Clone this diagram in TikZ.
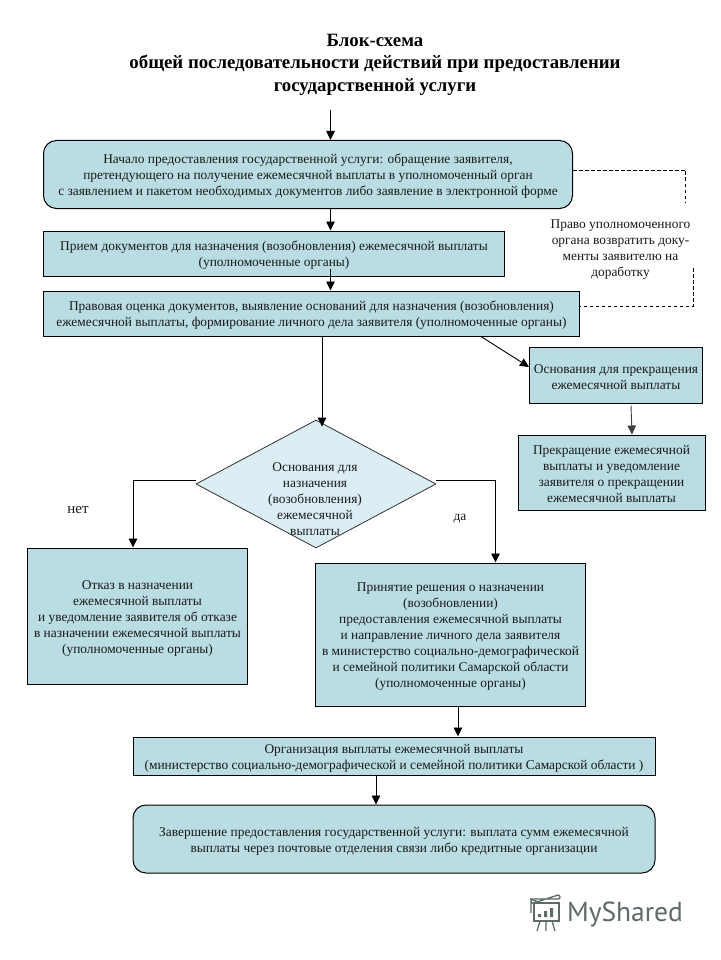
\documentclass[tikz,border=0pt]{standalone}
\usepackage{fontspec}
\setmainfont{Liberation Serif}
\newfontfamily\logofont{PT Sans}
\usetikzlibrary{shapes.geometric,arrows.meta,positioning}
\definecolor{boxfill}{HTML}{B9DDE3}
\definecolor{decfill}{HTML}{DBEEF3}
\definecolor{logogray}{HTML}{5E6B67}
\newcommand{\topgap}{\rule{0pt}{13pt}}
\tikzset{main box/.style={rectangle,draw=black,line width=1pt,fill=boxfill,align=center,inner sep=0pt,text=black!90,font=\fontsize{13.4}{16}\selectfont},
         round box/.style={main box,rounded corners=13pt},
         dec box/.style={diamond,draw=black!80,line width=0.8pt,fill=decfill,inner sep=0pt,aspect=1.9},
         edge label/.style={rectangle,draw=none,fill=none,align=center,inner sep=0pt,text=black!90,font=\fontsize{13.4}{16}\selectfont},
         title label/.style={edge label,text=black,font=\bfseries\fontsize{18.8}{22.5}\selectfont},
         flow/.style={-{Triangle[length=9pt,width=8.5pt]},line width=0.9pt},
         back edge/.style={dashed,dash pattern=on 3.5pt off 2.5pt,line width=0.8pt},
}
\begin{document}
\begin{tikzpicture}[x=1pt,y=-1pt]
\useasboundingbox (0,0) rectangle (720,960);
\fill[white] (0,0) rectangle (720,960);

\node [title label] (title) at (375,64.5) {Блок-схема\\общей последовательности действий при предоставлении\\государственной услуги};

\coordinate (in_top) at (330.5,110);

\node [round box,minimum width=529pt,minimum height=68pt] (b_start) at (308,174.5) {\topgap Начало предоставления государственной услуги: обращение заявителя,\\претендующего на получение ежемесячной выплаты в уполномоченный орган\\с заявлением и пакетом необходимых документов либо заявление в электронной форме};
\node [main box,minimum width=461pt,minimum height=45pt] (b_recv) at (274,253.5) {\topgap Прием документов для назначения (возобновления) ежемесячной выплаты\\(уполномоченные органы)};
\node [main box,minimum width=536pt,minimum height=45pt] (b_legal) at (311.5,313.5) {\topgap Правовая оценка документов, выявление  оснований для назначения (возобновления)\\ежемесячной выплаты, формирование личного дела заявителя (уполномоченные органы)};
\node [main box,minimum width=173pt,minimum height=56pt] (b_stop) at (616,375) {\topgap Основания для прекращения\\ежемесячной выплаты};
\node [main box,minimum width=187pt,minimum height=75pt] (b_term) at (611.5,472.5) {\topgap Прекращение ежемесячной\\выплаты и уведомление\\заявителя о прекращении\\ежемесячной выплаты};

\node [dec box,minimum width=240pt,minimum height=128pt] (b_dec) at (316,484) {};
\node [edge label] (dec_text) at (315,499) {Основания для\\назначения\\(возобновления)\\ежемесячной\\выплаты};

\node [main box,minimum width=220pt,minimum height=136pt] (b_refuse) at (137.5,616) {\topgap Отказ в назначении\\ежемесячной выплаты\\и уведомление заявителя об отказе\\в назначении ежемесячной выплаты\\(уполномоченные органы)};
\node [main box,minimum width=270pt,minimum height=143pt] (b_decide) at (450.5,634.5) {\topgap Принятие решения о назначении\\(возобновлении)\\предоставления ежемесячной выплаты\\и направление личного дела заявителя\\в министерство социально-демографической\\и семейной политики Самарской области\\(уполномоченные органы)};
\node [main box,minimum width=522pt,minimum height=38pt] (b_org) at (394,756) {\topgap Организация выплаты ежемесячной выплаты\\(министерство  социально-демографической и семейной политики Самарской области )};
\node [round box,minimum width=522pt,minimum height=68pt] (b_end) at (394,839) {\topgap Завершение предоставления государственной услуги: выплата сумм ежемесячной\\выплаты через почтовые отделения связи либо кредитные организации};

\node [edge label,font=\fontsize{15}{16}\selectfont] (l_no) at (78,510) {нет};
\node [edge label] (l_yes) at (460,518.5) {да};
\node [edge label] (l_back) at (620.5,249.5) {Право уполномоченного\\органа  возвратить доку-\\менты заявителю на\\доработку};

% main line
\draw[flow] (in_top) -- (in_top |- b_start.north);
\draw[flow] (in_top |- b_start.south) -- (in_top |- b_recv.north);
\draw[flow] ([yshift=8pt]in_top |- b_recv.south) -- (in_top |- b_legal.north);
\draw[flow] ([xshift=6pt]b_dec.north |- b_legal.south) -- ([xshift=6pt,yshift=-7pt]b_dec.north);
\draw[flow] ([xshift=169.5pt]b_legal.south) -- ([yshift=8pt]b_stop.west);
\draw[flow,black!75] ([xshift=15pt,yshift=-2pt]b_stop.south) -- ([xshift=20.5pt]b_term.north);

% branches of the diamond
\draw[flow] ([yshift=4pt]b_dec.west) -| ([xshift=-4.5pt]b_refuse.north);
\draw[flow] ([yshift=4pt]b_dec.east) -| ([xshift=45pt]b_decide.north);
\draw[flow] ([xshift=7.5pt]b_decide.south) -- ([xshift=64pt]b_org.north);
\draw[flow] ([xshift=-18pt]b_org.south) -- ([xshift=-18pt]b_end.north);

% return to applicant
\coordinate (back_a) at (685.5,202);
\coordinate (back_b) at (693,268);
\draw[back edge] (b_start.east |- 0,170) -- (back_a |- 0,170) -- (back_a);
\draw[back edge] (back_b) -- (back_b |- 0,306) -- (b_legal.east |- 0,306);

% logo
\begin{scope}[logogray,line width=1.3pt]
\draw (534,903) rectangle (559,921);
\draw (531,913) -- (531,901) arc (180:0:2.5) -- (530,899);
\draw (531,899) -- (558,899) arc (90:-90:2) -- (534,903);
\draw (540,921) -- (537,931) (546,921) -- (546,931) (552,921) -- (555,931);
\fill (538,914) rectangle (541,917) (544,911) rectangle (547,917) (550,908) rectangle (553,917);
\end{scope}
\node [edge label,text=logogray,font=\logofont\fontsize{27.5}{27.5}\selectfont] (logo_text) at (625,915) {MyShared};

\end{tikzpicture}
\end{document}
